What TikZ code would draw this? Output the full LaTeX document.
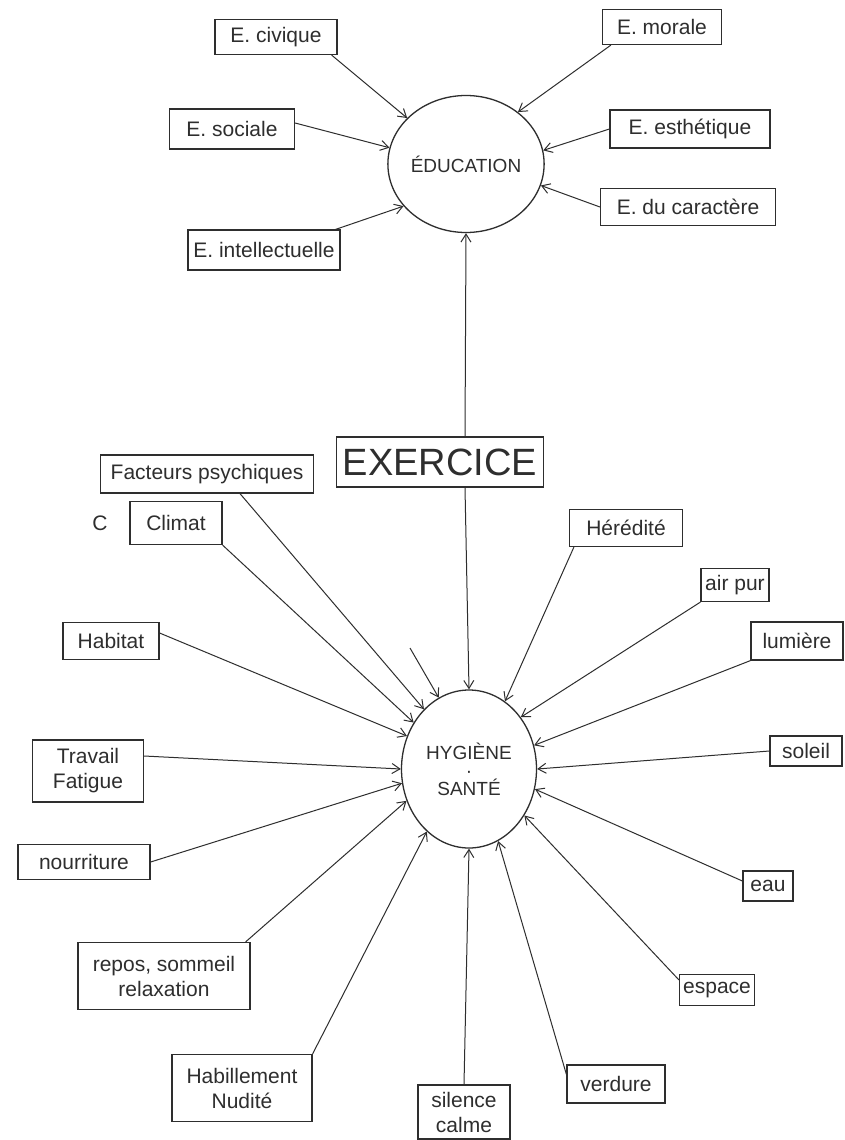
\documentclass[tikz,border=0pt]{standalone}
\usepackage{fontspec}
\setmainfont{Liberation Sans}
\usetikzlibrary{arrows.meta,shapes.geometric}
\definecolor{ink}{HTML}{2E2E2E}
\begin{document}
\begin{tikzpicture}[x=1pt,y=-1pt,
  box/.style={draw=ink,line width=1.2pt,rectangle,inner sep=1pt,align=center,
    text=ink,font=\fontsize{21}{25}\selectfont},
  bubble/.style={draw=ink,line width=1.3pt,ellipse,inner sep=0pt,align=center,
    text=ink,font=\fontsize{19}{24}\selectfont},
  arr/.style={draw=ink,line width=1pt,-{Straight Barb[length=8pt,width=10pt]}}]
\useasboundingbox[fill=white] (0,0) rectangle (844,1140);

% centres
\node[bubble,minimum width=140pt,minimum height=137pt] (edu) at (466,164) {ÉDUCATION};
\node[bubble,minimum width=135pt,minimum height=158pt] (hyg) at (469,769) {HYGIÈNE\\[-6pt]·\\[-6pt]SANTÉ};
\node[box,minimum width=207pt,minimum height=50pt,font=\fontsize{38}{42}\selectfont] (ex) at (440,462) {EXERCICE};

% education boxes
\node[box,minimum width=122pt,minimum height=35pt] (civ) at (276,37) {E. civique};
\node[box,minimum width=119pt,minimum height=35pt] (mor) at (662,27) {E. morale};
\node[box,minimum width=125pt,minimum height=40pt] (soc) at (232,129) {E. sociale};
\node[box,minimum width=160pt,minimum height=38pt] (est) at (690,129) {E. esthétique};
\node[box,minimum width=175pt,minimum height=37pt] (car) at (688,207) {E. du caractère};
\node[box,minimum width=152pt,minimum height=40pt] (int) at (264,250) {E. intellectuelle};

% hygiene boxes
\node[box,minimum width=213pt,minimum height=38pt] (fac) at (207,474) {Facteurs psychiques};
\node[box,minimum width=92pt,minimum height=43pt] (cli) at (176,523) {Climat};
\node[text=ink,font=\fontsize{21}{24}\selectfont] (c) at (100,523) {C};
\node[box,minimum width=113pt,minimum height=37pt] (her) at (626,528) {Hérédité};
\node[box,minimum width=68pt,minimum height=33pt] (air) at (735,585) {air pur};
\node[box,minimum width=92pt,minimum height=38pt] (lum) at (797,641) {lumière};
\node[box,minimum width=96pt,minimum height=37pt] (hab) at (111,641) {Habitat};
\node[box,minimum width=111pt,minimum height=62pt] (tra) at (88,771) {Travail\\Fatigue};
\node[box,minimum width=72pt,minimum height=30pt] (sol) at (806,751) {soleil};
\node[box,minimum width=132pt,minimum height=35pt] (nou) at (84,862) {nourriture};
\node[box,minimum width=50pt,minimum height=30pt] (eau) at (768,886) {eau};
\node[box,minimum width=172pt,minimum height=67pt] (rep) at (164,976) {repos, sommeil\\relaxation};
\node[box,minimum width=75pt,minimum height=31pt] (esp) at (717,990) {espace};
\node[box,minimum width=140pt,minimum height=67pt] (hbl) at (242,1088) {Habillement\\Nudité};
\node[box,minimum width=92pt,minimum height=54pt] (sil) at (464,1112) {silence\\calme};
\node[box,minimum width=98pt,minimum height=38pt] (ver) at (616,1084) {verdure};
\coordinate (stray) at (410,648);

% arrows to education
\draw[arr] ([xshift=-6pt]civ.south east) -- (edu.142);
\draw[arr] ([xshift=9pt]mor.south west) -- (edu.45);
\draw[arr] ([yshift=6pt]soc.east) -- (edu.168);
\draw[arr] (est.west) -- (edu.10);
\draw[arr] (car.west) -- (edu.-16);
\draw[arr] ([xshift=-5pt]int.north east) -- (edu.214);
\draw[arr] ([xshift=25pt]ex.north) -- (edu.south);

% arrows to hygiene
\draw[arr] ([xshift=25pt]ex.south) -- (hyg.north);
\draw[arr] ([xshift=33pt]fac.south) -- (hyg.127);
\draw[arr] (cli.south east) -- (hyg.140);
\draw[arr] (stray) -- (hyg.113);
\draw[arr] ([xshift=5pt]her.south west) -- (hyg.62);
\draw[arr] (air.south west) -- (hyg.45);
\draw[arr] (lum.south west) -- (hyg.20);
\draw[arr] ([yshift=8pt]hab.east) -- (hyg.152);
\draw[arr] ([yshift=15pt]tra.east) -- (hyg.180);
\draw[arr] (sol.west) -- (hyg.0);
\draw[arr] (nou.east) -- (hyg.192);
\draw[arr] ([yshift=5pt]eau.west) -- (hyg.343);
\draw[arr] ([xshift=-5pt]rep.north east) -- (hyg.207);
\draw[arr] ([yshift=-6pt]esp.north west) -- (hyg.320);
\draw[arr] (hbl.north east) -- (hyg.236);
\draw[arr] (sil.north) -- (hyg.south);
\draw[arr] ([yshift=-10pt]ver.north west) -- (hyg.292);
\end{tikzpicture}
\end{document}
